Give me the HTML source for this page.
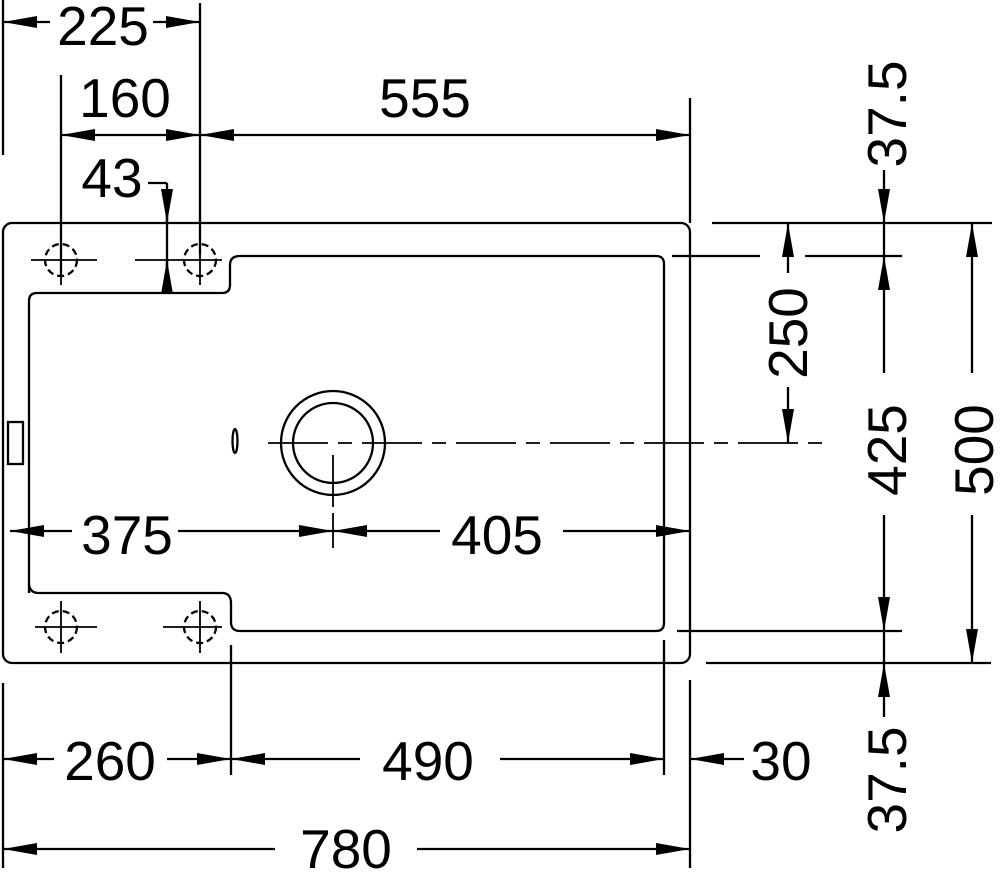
<!DOCTYPE html>
<html><head><meta charset="utf-8"><style>
html,body{margin:0;padding:0;background:#fff;}
svg{display:block;}
text{font-family:"Liberation Sans",Arial,sans-serif;font-size:55px;fill:#000;}
</style></head><body>
<svg width="1000" height="877" viewBox="0 0 1000 877" xmlns="http://www.w3.org/2000/svg">
<defs>
<marker id="a" viewBox="0 0 34 12" markerWidth="34" markerHeight="12" refX="34" refY="6" orient="auto-start-reverse" markerUnits="userSpaceOnUse">
<path d="M0,0 L34,6 L0,12 z" fill="#000"/>
</marker>
</defs>
<g fill="none" stroke="#000" stroke-width="2.3">
<rect x="3" y="223" width="687" height="440" rx="9"/>
<path d="M29,593 L29,301 Q29,293 37,293 L222,293 Q230,293 230,285 L230,265 Q230,256 240,256 L656,256 Q664,256 664,264 L664,623 Q664,631 656,631 L240,631 Q231,631 231,622 L231,603 Q231,593 222,593 L39,593 Q29,593 29,583"/>
<rect x="8" y="422" width="15" height="42"/>
<ellipse cx="235" cy="441" rx="2.5" ry="12"/>
<circle cx="333" cy="443" r="52"/>
<circle cx="333" cy="443" r="40"/>
<g stroke-dasharray="7,4">
<circle cx="61" cy="260" r="16"/><circle cx="200" cy="260" r="16"/>
<circle cx="61" cy="627" r="16"/><circle cx="200" cy="627" r="16"/>
</g>
<g stroke-width="1.8">
<path d="M31,260 H97 M135,260 H222 M61,235 V285 M200,235 V285"/>
<path d="M35,627 H97 M163,627 H222 M61,601 V653 M200,601 V653"/>
</g>
<path d="M268,443 H822" stroke-dasharray="60,10,14,10" stroke-width="1.8"/>
<path d="M333,455 V507 M333,513 V548" stroke-width="1.8"/>
<path d="M3,0 V155 M200,3 V255 M61,75 V275 M690,98 V223 M167,183 V290 M148,183 H167"/>
<path d="M712,223 H992 M672,256 H760 M805,256 H902 M677,631 H902 M706,663 H991"/>
<path d="M3,683 V868 M231,645 V775 M664,640 V775 M690,680 V868"/>
<line x1="50" y1="22" x2="3" y2="22" marker-end="url(#a)"/>
<line x1="153" y1="22" x2="200" y2="22" marker-end="url(#a)"/>
<line x1="61" y1="135" x2="200" y2="135" marker-start="url(#a)" marker-end="url(#a)"/>
<line x1="200" y1="135" x2="690" y2="135" marker-start="url(#a)" marker-end="url(#a)"/>
<line x1="167" y1="190" x2="167" y2="223" marker-end="url(#a)"/>
<line x1="167" y1="292" x2="167" y2="260" marker-end="url(#a)"/>
<line x1="72" y1="531" x2="10" y2="531" marker-end="url(#a)"/>
<line x1="178" y1="531" x2="333" y2="531" marker-end="url(#a)"/>
<line x1="440" y1="531" x2="333" y2="531" marker-end="url(#a)"/>
<line x1="563" y1="531" x2="690" y2="531" marker-end="url(#a)"/>
<line x1="54" y1="759" x2="3" y2="759" marker-end="url(#a)"/>
<line x1="167" y1="759" x2="231" y2="759" marker-end="url(#a)"/>
<line x1="360" y1="759" x2="231" y2="759" marker-end="url(#a)"/>
<line x1="500" y1="759" x2="664" y2="759" marker-end="url(#a)"/>
<line x1="744" y1="759" x2="690" y2="759" marker-end="url(#a)"/>
<line x1="275" y1="849" x2="3" y2="849" marker-end="url(#a)"/>
<line x1="417" y1="849" x2="690" y2="849" marker-end="url(#a)"/>
<line x1="884" y1="170" x2="884" y2="223" marker-end="url(#a)"/>
<line x1="884" y1="223" x2="884" y2="256"/>
<line x1="884" y1="373" x2="884" y2="256" marker-end="url(#a)"/>
<line x1="884" y1="515" x2="884" y2="631" marker-end="url(#a)"/>
<line x1="884" y1="631" x2="884" y2="663"/>
<line x1="884" y1="717" x2="884" y2="663" marker-end="url(#a)"/>
<line x1="788" y1="273" x2="788" y2="223" marker-end="url(#a)"/>
<line x1="788" y1="387" x2="788" y2="443" marker-end="url(#a)"/>
<line x1="972" y1="373" x2="972" y2="223" marker-end="url(#a)"/>
<line x1="972" y1="515" x2="972" y2="663" marker-end="url(#a)"/>
</g>
<g text-anchor="middle">
<text x="103" y="45">225</text>
<text x="125" y="117">160</text>
<text x="425" y="117">555</text>
<text x="112" y="197">43</text>
<text x="127" y="554">375</text>
<text x="497" y="554">405</text>
<text x="110" y="780">260</text>
<text x="428" y="780">490</text>
<text x="781" y="780">30</text>
<text x="346" y="868">780</text>
<text transform="translate(906,114) rotate(-90)">37.5</text>
<text transform="translate(807,333) rotate(-90)">250</text>
<text transform="translate(906,450) rotate(-90)">425</text>
<text transform="translate(993,450) rotate(-90)">500</text>
<text transform="translate(906,780) rotate(-90)">37.5</text>
</g>
</svg>
</body></html>
